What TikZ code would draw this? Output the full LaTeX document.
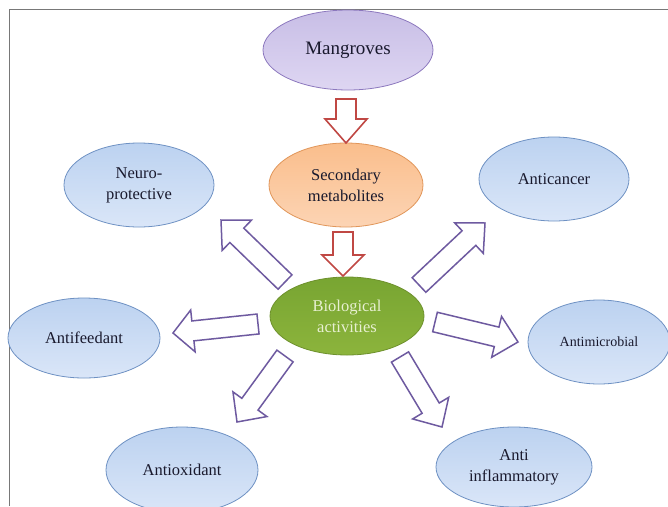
\documentclass[tikz,border=0pt]{standalone}
\usepackage{fontspec}
\setmainfont{Liberation Serif}
\usetikzlibrary{shapes.geometric,calc}
\definecolor{txt}{RGB}{25,25,45}
\definecolor{bluedraw}{RGB}{110,145,195}
\definecolor{bluetop}{RGB}{188,210,240}
\definecolor{bluebot}{RGB}{218,230,248}
\definecolor{purpdraw}{RGB}{140,120,190}
\definecolor{purptop}{RGB}{200,190,230}
\definecolor{purpbot}{RGB}{222,214,242}
\definecolor{orgdraw}{RGB}{225,150,90}
\definecolor{orgtop}{RGB}{250,190,140}
\definecolor{orgbot}{RGB}{252,212,180}
\definecolor{grndraw}{RGB}{110,145,45}
\definecolor{grntop}{RGB}{120,165,50}
\definecolor{grnbot}{RGB}{140,180,60}
\definecolor{grntxt}{RGB}{232,240,210}
\definecolor{redarr}{RGB}{192,72,68}
\definecolor{purparr}{RGB}{110,90,160}
\definecolor{frame}{RGB}{120,120,120}
\newcommand{\barrow}[4]{%
  \coordinate (hb) at ($(#3)!#4!(#2)$);
  \draw[#1] ($(#2)!10pt!90:(#3)$) -- ($(hb)!10pt!90:(#3)$) -- ($(hb)!21pt!90:(#3)$) -- (#3)
    -- ($(hb)!21pt!-90:(#3)$) -- ($(hb)!10pt!-90:(#3)$) -- ($(#2)!10pt!-90:(#3)$) -- cycle;}
\begin{document}
\begin{tikzpicture}[x=1pt,y=-1pt,
  bub/.style={ellipse, draw, line width=0.8pt, inner sep=0pt, align=center, text=txt,
    font=\fontsize{16.5}{21}\selectfont},
  bluebub/.style={bub, minimum width=150pt, minimum height=84pt, draw=bluedraw,
    top color=bluetop, bottom color=bluebot},
  redblock/.style={draw=redarr, fill=white, line width=1.6pt, line join=miter},
  purpblock/.style={draw=purparr, fill=white, line width=1.5pt, line join=miter}]
\useasboundingbox (0,0) rectangle (668,506);
\clip (0,0) rectangle (668,506);
\fill[white] (0,0) rectangle (668,506);
\draw[frame, line width=1.5pt] (9.5,506) -- (9.5,9.5) -- (668,9.5);

\node[bub, minimum width=170pt, minimum height=80pt, draw=purpdraw, top color=purptop, bottom color=purpbot,
  font=\fontsize{19}{22}\selectfont] (mang) at (348,50) {Mangroves};
\node[bub, minimum width=154pt, minimum height=84pt, draw=orgdraw, top color=orgtop, bottom color=orgbot] (sec) at (346,185) {Secondary\\metabolites};
\node[bub, minimum width=154pt, minimum height=78pt, draw=grndraw, top color=grntop, bottom color=grnbot, text=grntxt] (bio) at (347,316) {Biological\\activities};

\node[bluebub] (neuro) at (139,185) {Neuro-\\protective};
\node[bluebub, minimum width=152pt, minimum height=80pt] (feed) at (84,338) {Antifeedant};
\node[bluebub] (canc) at (554,179) {Anticancer};
\node[bluebub, minimum width=142pt, font=\fontsize{14}{18}\selectfont] (micro) at (599,342) {Antimicrobial};
\node[bluebub, minimum width=152pt, minimum height=86pt] (oxid) at (182,470) {Antioxidant};
\node[bluebub, minimum width=156pt, minimum height=80pt] (infl) at (514,467) {Anti\\inflammatory};

\coordinate (r1a) at (346,99);  \coordinate (r1b) at (346,143);
\coordinate (r2a) at (343,232); \coordinate (r2b) at (343,276);
\barrow{redblock}{r1a}{r1b}{24pt}
\barrow{redblock}{r2a}{r2b}{21pt}

\coordinate (p1a) at (285,282); \coordinate (p1b) at (221,220);
\coordinate (p2a) at (258,324); \coordinate (p2b) at (173,333);
\coordinate (p3a) at (285,356); \coordinate (p3b) at (237,422);
\coordinate (p4a) at (419,285); \coordinate (p4b) at (485,223);
\coordinate (p5a) at (435,322); \coordinate (p5b) at (518,342);
\coordinate (p6a) at (400,357); \coordinate (p6b) at (442,427);
\barrow{purpblock}{p1a}{p1b}{22pt}
\barrow{purpblock}{p2a}{p2b}{20pt}
\barrow{purpblock}{p3a}{p3b}{22pt}
\barrow{purpblock}{p4a}{p4b}{22pt}
\barrow{purpblock}{p5a}{p5b}{22pt}
\barrow{purpblock}{p6a}{p6b}{22pt}
\end{tikzpicture}
\end{document}
